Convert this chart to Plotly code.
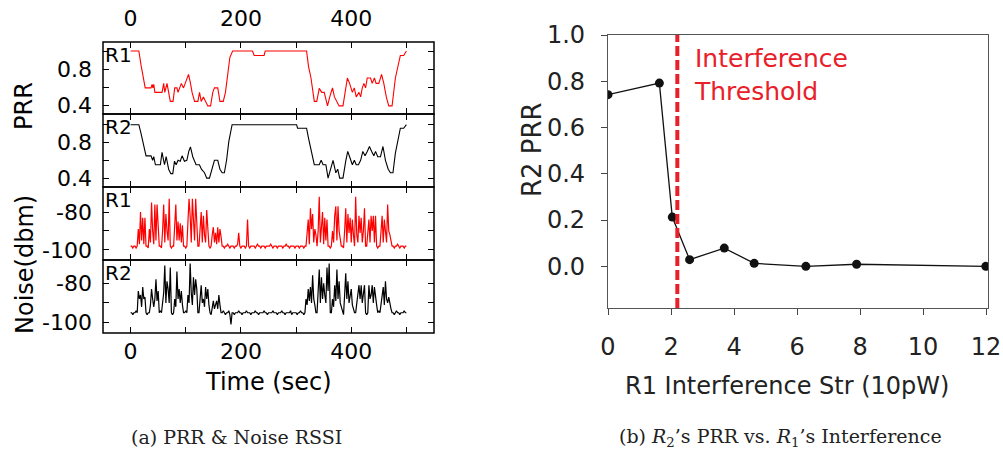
import plotly.graph_objects as go

# ---------------- data ----------------
time_ticks = [0, 100, 200, 300, 400, 500]
time_labels = ["0", "", "200", "", "400", ""]
prr_ticks = [0.4, 0.6, 0.8, 1.0]
prr_labels = ["0.4", "", "0.8", ""]
noise_ticks = [-100, -90, -80]
noise_labels = ["-100", "", "-80"]

prr_r1_t = [0, 15, 19, 22, 26.5, 37, 39, 40.5, 42, 44, 57, 60, 62, 66, 72, 77, 80, 84, 86, 89,
            92, 96, 99, 102, 105, 108, 111.5, 116, 122, 125, 128, 132, 136, 140, 145, 149, 152, 158, 162, 168,
            172, 176, 180, 185, 221, 224, 242, 244, 319, 322.5, 327, 333, 337.5, 342, 346.5, 351, 357, 361, 366, 369.5,
            373, 378, 385, 390, 393, 397, 402, 405.5, 409, 414, 417, 420, 423, 426, 429, 435, 438, 442, 445, 450,
            455, 459, 463.5, 468, 474, 480, 486, 489, 495, 500]
prr_r1 = [1.0, 1.0, 0.84, 0.75, 0.59, 0.59, 0.63, 0.59, 0.63, 0.54, 0.54, 0.64, 0.54, 0.64, 0.44, 0.44, 0.59, 0.59, 0.54, 0.59,
          0.64, 0.59, 0.64, 0.70, 0.74, 0.66, 0.54, 0.44, 0.44, 0.54, 0.44, 0.49, 0.44, 0.39, 0.39, 0.54, 0.59, 0.59, 0.44, 0.44,
          0.54, 0.77, 0.93, 1.0, 1.0, 0.95, 0.95, 1.0, 1.0, 0.83, 0.70, 0.44, 0.44, 0.585, 0.54, 0.54, 0.39, 0.49, 0.59, 0.49,
          0.44, 0.39, 0.39, 0.59, 0.70, 0.64, 0.54, 0.59, 0.49, 0.54, 0.49, 0.59, 0.64, 0.59, 0.70, 0.70, 0.64, 0.70, 0.64, 0.64,
          0.74, 0.64, 0.49, 0.39, 0.39, 0.70, 0.89, 0.95, 0.95, 1.0]

prr_r2_t = [0, 15, 19, 23.5, 28, 37, 40, 42, 45, 54, 57, 61.5, 64.5, 69, 73, 76.5, 79.6, 82.6, 86, 90,
            93.4, 97.6, 102, 105.5, 108.5, 112.7, 115.7, 118.7, 124.8, 128.4, 134, 138, 143, 147.7, 152, 158, 162, 166, 170, 174,
            178, 184, 301, 302.6, 319, 322.5, 326.8, 333, 342, 345.4, 349, 354, 358, 362, 367, 372, 375.5, 379, 385, 390,
            393.6, 397, 402, 405.6, 409, 413, 417, 421, 425, 429, 433, 437, 441, 444, 448, 453, 457.5, 462, 467, 471,
            475.6, 480, 485, 489, 495, 500]
prr_r2 = [1.0, 1.0, 0.9, 0.79, 0.65, 0.65, 0.6, 0.64, 0.55, 0.55, 0.69, 0.55, 0.64, 0.5, 0.45, 0.45, 0.59, 0.55, 0.6, 0.59,
          0.65, 0.59, 0.6, 0.7, 0.75, 0.64, 0.6, 0.55, 0.55, 0.5, 0.46, 0.4, 0.4, 0.51, 0.6, 0.6, 0.5, 0.46, 0.46, 0.6,
          0.81, 1.0, 1.0, 0.96, 0.96, 0.85, 0.72, 0.55, 0.55, 0.6, 0.55, 0.55, 0.4, 0.49, 0.6, 0.46, 0.5, 0.4, 0.4, 0.59,
          0.7, 0.64, 0.55, 0.6, 0.55, 0.55, 0.6, 0.7, 0.65, 0.7, 0.755, 0.7, 0.65, 0.7, 0.64, 0.64, 0.755, 0.6, 0.5, 0.46,
          0.46, 0.68, 0.86, 0.96, 0.96, 1.0]

# noise sampled every 2 s from t=0 to t=500
noise_r1 = [
    -98, -98, -99, -98, -98, -99, -98,
    -89, -97, -80, -95, -83, -97, -83,
    -98, -98, -99,
    -89, -96, -75, -90, -97, -76, -95, -76, -90,
    -98, -98, -99,
    -90, -76, -96, -81, -90, -95, -73,
    -98, -99, -98, -98,
    -88, -76, -95, -85, -95, -86, -96, -87,
    -98, -98, -99, -98,
    -85, -73, -82, -96, -73, -86, -95, -73, -86,
    -98, -98,
    -90, -80, -96, -82, -92, -96, -79, -92,
    -98, -99, -98,
    -92, -88, -96, -91, -97, -88, -96, -89, -93,
    -98, -98, -99, -98, -98, -97, -98, -99, -98, -98, -98, -99, -98, -98, -97,
    -91,
    -98, -99, -98, -98, -98, -99, -98,
    -84,
    -98, -99, -98, -98, -98, -98, -99, -98, -97, -98,
    -98, -99, -98, -98, -98, -99, -98, -98, -98, -98,
    -97, -98, -99, -98, -98, -98, -99, -98, -98, -98,
    -98, -99, -98, -98, -97, -98, -98, -99, -98, -98,
    -98, -98, -99, -98, -98, -98, -99, -98, -98, -98,
    -99, -98, -98,
    -89, -84, -97, -78, -89, -81, -96, -89, -92,
    -98,
    -90, -72, -96, -89, -80, -97, -83, -95, -84,
    -98, -98, -99, -98,
    -90, -96, -82, -77, -95, -77, -90, -96,
    -98, -98, -99,
    -90, -78, -96, -81, -91, -83, -96, -84, -92,
    -98,
    -72, -92, -96, -82, -91, -83, -96, -90, -78,
    -98, -98,
    -90, -84, -96, -82, -90, -82, -96, -82,
    -98, -99, -98, -98,
    -90, -82, -96, -84, -90, -96, -76, -90, -92, -96,
    -98, -98, -99, -98, -98, -97, -98, -99, -98, -98, -98, -99, -98, -98,
]
noise_r2 = [
    -95, -95, -96, -95, -95, -94, -95,
    -84, -88, -86, -92, -82, -88, -87,
    -95, -96, -95, -95,
    -91, -83, -88, -92, -88, -78, -89, -84,
    -95, -94, -95,
    -88, -85, -71, -90, -79, -83, -90, -72,
    -95, -96, -95,
    -88, -92, -74, -88, -83, -90, -84, -91,
    -95, -95, -94, -95,
    -86, -90, -70, -85, -91, -77, -86, -78, -83,
    -95, -95,
    -88, -81, -90, -88, -92, -82, -88, -83, -91,
    -95, -96,
    -92, -89, -93, -90, -89, -93, -86, -91,
    -95, -95, -94, -95, -96, -95, -95, -94,
    -96, -101,
    -95, -95, -96, -95, -95, -95, -94, -95, -95, -96,
    -95, -95, -95, -94, -95, -95, -95, -96, -95, -95,
    -95, -94, -95, -95, -96, -95, -95, -95, -95, -94,
    -95, -95, -96, -95, -95, -95, -95, -94, -95, -95,
    -95, -96, -95, -95, -95, -94, -95, -95, -96, -95,
    -95, -95, -95, -94, -96, -95, -95, -95, -95, -96,
    -95, -95, -94, -95, -95, -96, -95,
    -88, -91, -83, -89, -82, -90, -76, -88, -91,
    -95, -95,
    -86, -73, -90, -77, -88, -80, -86, -90, -72, -84, -70,
    -95, -95,
    -88, -92, -81, -89, -73, -88, -79, -90, -92,
    -95, -96,
    -86, -75, -88, -79, -90, -85, -83, -91, -93,
    -95, -95,
    -90, -86, -81, -88, -81, -90, -86, -81,
    -95, -96, -95,
    -81, -88, -86, -81, -90, -82, -88, -91,
    -95, -94, -95,
    -90, -88, -82, -91, -79, -88, -90, -87, -91, -93,
    -95, -95, -96, -95, -94, -95, -95, -96, -95, -95, -95, -94, -95, -95,
]
noise_t1 = [2 * i for i in range(len(noise_r1))]
noise_t2 = [2 * i for i in range(len(noise_r2))]

interf = [0, 1.63, 2.04, 2.59, 3.69, 4.64, 6.28, 7.89, 11.99]
r2_prr = [0.742, 0.792, 0.213, 0.029, 0.079, 0.013, 0.0, 0.009, 0.0]
threshold = 2.2
interf_ticks = [0, 2, 4, 6, 8, 10, 12]
prr_ticks_b = [0.0, 0.2, 0.4, 0.6, 0.8, 1.0]

# ---------------- layout helpers ----------------
W, H = 1003, 451
FONT = "DejaVu Sans"
RED = "#ff0000"


def fx(p):
    return p / W


def fy(p):
    return 1 - p / H


XL0, XL1 = 103, 434
xl = [fx(XL0), fx(XL1)]
rows = [(42, 114), (114, 187), (187, 260), (260, 333)]

fig = go.Figure()
fig.add_trace(go.Scatter(x=prr_r1_t, y=prr_r1, mode="lines", line=dict(color=RED, width=1.1), xaxis="x", yaxis="y"))
fig.add_trace(go.Scatter(x=prr_r2_t, y=prr_r2, mode="lines", line=dict(color="black", width=1.1), xaxis="x2", yaxis="y2"))
fig.add_trace(go.Scatter(x=noise_t1, y=noise_r1, mode="lines", line=dict(color=RED, width=1.2), xaxis="x3", yaxis="y3"))
fig.add_trace(go.Scatter(x=noise_t2, y=noise_r2, mode="lines", line=dict(color="black", width=1.2), xaxis="x4", yaxis="y4"))
fig.add_trace(go.Scatter(x=interf, y=r2_prr, mode="lines+markers",
                         line=dict(color="#111", width=1.3),
                         marker=dict(color="#111", size=9), xaxis="x5", yaxis="y5"))

tickfont_l = dict(family=FONT, size=22, color="black")
base_x = dict(range=[-50, 550], tickvals=time_ticks, ticktext=time_labels, ticks="inside", ticklen=6,
              tickwidth=1.2, tickcolor="black", showline=False,
              mirror="ticks", showgrid=False, zeroline=False, tickfont=tickfont_l, domain=xl,
              automargin=False)
base_y = dict(ticks="inside", ticklen=6, tickwidth=1.2, tickcolor="black", showline=False,
              mirror="ticks", showgrid=False, zeroline=False, tickfont=tickfont_l,
              ticklabelstandoff=10, automargin=False)

yranges = [[0.3, 1.1], [0.3, 1.12], [-105.3, -66.8], [-105.3, -68.2]]
ytv = [(prr_ticks, prr_labels), (prr_ticks, prr_labels), (noise_ticks, noise_labels), (noise_ticks, noise_labels)]

layout = dict(width=W, height=H, margin=dict(l=0, r=0, t=0, b=0, autoexpand=False), showlegend=False,
              paper_bgcolor="white", plot_bgcolor="white")
for i in range(4):
    sx = "" if i == 0 else str(i + 1)
    xa = dict(base_x, anchor="y" + sx)
    if i == 0:
        xa.update(side="top", showticklabels=True, ticklabelstandoff=11)
    elif i == 3:
        xa.update(side="bottom", showticklabels=True, ticklabelstandoff=3)
    else:
        xa.update(showticklabels=False)
    ya = dict(base_y, anchor="x" + sx, range=yranges[i], tickvals=ytv[i][0], ticktext=ytv[i][1],
              domain=[fy(rows[i][1]), fy(rows[i][0])])
    layout["xaxis" + sx] = xa
    layout["yaxis" + sx] = ya

tickfont_r = dict(family=FONT, size=24, color="#222")
layout["xaxis5"] = dict(domain=[fx(608), fx(988)], anchor="y5", range=[0, 12.06], tickvals=interf_ticks,
                        ticks="outside", ticklen=6, tickwidth=1.2, tickcolor="#444", showline=True,
                        linecolor="#555", linewidth=1.3, mirror=True, showgrid=False, zeroline=False,
                        tickfont=tickfont_r, ticklabelstandoff=11, automargin=False)
layout["yaxis5"] = dict(domain=[fy(308), fy(35)], anchor="x5", range=[-0.18, 1.0], tickvals=prr_ticks_b,
                        tickformat=".1f", ticks="outside", ticklen=6, tickwidth=1.2, tickcolor="#444",
                        showline=True, linecolor="#555", linewidth=1.3, mirror=True, showgrid=False,
                        zeroline=False, tickfont=tickfont_r, ticklabelstandoff=11, automargin=False)

fig.update_layout(**layout)

# subplot frames of panel (a)
for r0, r1 in rows:
    fig.add_shape(type="rect", xref="paper", yref="paper", x0=fx(XL0), x1=fx(XL1), y0=fy(r1), y1=fy(r0),
                  line=dict(color="black", width=1.5), fillcolor="rgba(0,0,0,0)", layer="above")

fig.add_shape(type="line", xref="x5", yref="y5 domain", x0=threshold, x1=threshold, y0=0, y1=1,
              line=dict(color="#e8202a", width=4, dash="10px,4px"))


def note(text, x, y, size, color="black", family=FONT, angle=0, xa="center", ya="middle", align="center"):
    return dict(text=text, xref="paper", yref="paper", x=fx(x), y=fy(y), xanchor=xa, yanchor=ya,
                align=align, textangle=angle, showarrow=False,
                font=dict(family=family, size=size, color=color))


ann = [note("Interference<br>Threshold", 692, 42, 25, "#e8202a", xa="left", ya="top", align="left")]
for i, lab in enumerate(["R1", "R2", "R1", "R2"]):
    ann.append(note(lab, 103, rows[i][0] - 1, 20, xa="left", ya="top"))
ann.append(note("PRR", 24, 106, 24, angle=-90))
ann.append(note("Noise(dbm)", 25, 265, 24, angle=-90))
ann.append(note("Time (sec)", 268, 382, 24))
ann.append(note("R2 PRR", 532, 150, 26, "#222", angle=-90))
ann.append(note("R1 Interference Str (10pW)", 787, 386, 24, "#222"))
ann.append(note("(a) PRR &amp; Noise RSSI", 236, 437, 19, "#222", family="DejaVu Serif"))
ann.append(note("(b) <i>R</i><sub>2</sub>’s PRR vs. <i>R</i><sub>1</sub>’s Interference", 780, 437, 19,
                "#222", family="DejaVu Serif"))
fig.update_layout(annotations=ann)

fig.write_html("out.html", config={"displayModeBar": False},
               post_script="document.body.style.margin='0';document.body.style.overflow='hidden';")
